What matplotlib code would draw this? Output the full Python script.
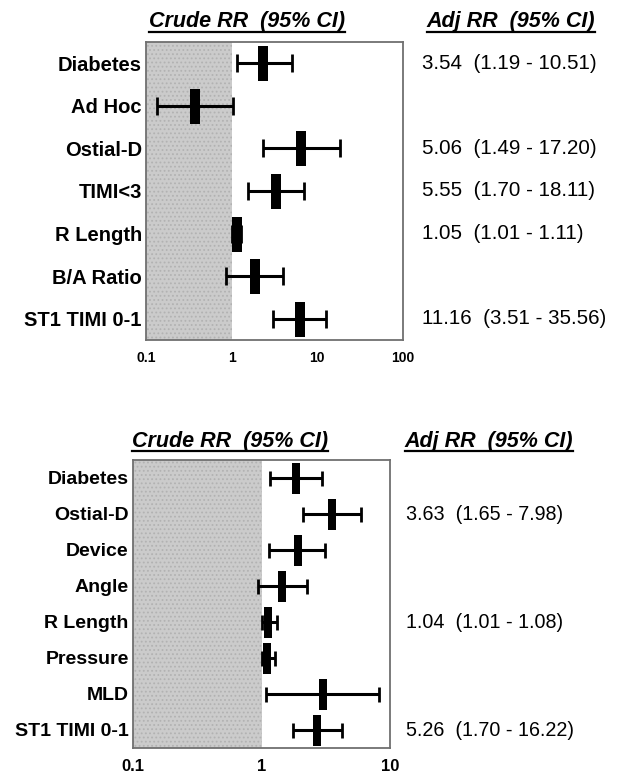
import matplotlib
matplotlib.use("Agg")
import matplotlib.pyplot as plt
from matplotlib.transforms import blended_transform_factory
from matplotlib.lines import Line2D

# ── Data ──────────────────────────────────────────────────────────────────────

top_labels = ["Diabetes", "Ad Hoc", "Ostial-D", "TIMI<3", "R Length",
              "B/A Ratio", "ST1 TIMI 0-1"]
top_rr = [2.35, 0.37, 6.4, 3.3, 1.15, 1.87, 6.3]
top_lo = [1.14, 0.135, 2.3, 1.55, 1.02, 0.86, 3.07]
top_hi = [5.1, 1.03, 18.6, 7.0, 1.3, 4.0, 12.6]
top_adj = ["3.54  (1.19 - 10.51)", "", "5.06  (1.49 - 17.20)",
           "5.55  (1.70 - 18.11)", "1.05  (1.01 - 1.11)", "",
           "11.16  (3.51 - 35.56)"]
top_ticks = [0.1, 1, 10, 100]

bot_labels = ["Diabetes", "Ostial-D", "Device", "Angle", "R Length",
              "Pressure", "MLD", "ST1 TIMI 0-1"]
bot_rr = [1.85, 3.53, 1.93, 1.44, 1.13, 1.11, 3.0, 2.7]
bot_lo = [1.17, 2.1, 1.15, 0.94, 1.0, 1.0, 1.09, 1.76]
bot_hi = [2.96, 5.9, 3.11, 2.26, 1.33, 1.28, 8.2, 4.2]
bot_adj = ["", "3.63  (1.65 - 7.98)", "", "", "1.04  (1.01 - 1.08)", "", "",
           "5.26  (1.70 - 16.22)"]
bot_ticks = [0.1, 1, 10]

plt.rcParams['font.family'] = ['Liberation Sans', 'DejaVu Sans']
plt.rcParams['hatch.linewidth'] = 0.8

W, H = 619, 773
fig = plt.figure(figsize=(W / 100, H / 100), dpi=100)

# rectangle marker, 10 px wide and ~35 px tall
RECT = [(-5, -17.5), (5, -17.5), (5, 17.5), (-5, 17.5), (-5, -17.5)]


def panel(rect, labels, rr, lo, hi, adj, ticks, box_h, cap, tick_fs, adj_x, lab_fs, adj_fs):
    ax = fig.add_axes(rect)
    n = len(labels)
    ys = list(range(n))
    ax.set_xscale('log')
    ax.set_xlim(ticks[0], ticks[-1])
    ax.set_ylim(n - 0.5, -0.5)
    # stippled grey region below RR = 1
    ax.axvspan(ticks[0], 1, facecolor='#cbcbcb', edgecolor='#b2b2b2', hatch='....',
               lw=0, zorder=0)
    err = [[r - l for r, l in zip(rr, lo)], [h - r for r, h in zip(rr, hi)]]
    ax.errorbar(rr, ys, xerr=err, fmt='none', ecolor='black', elinewidth=2.2,
                capsize=cap / 2 * 0.72, capthick=2.0, zorder=3)
    ax.plot(rr, ys, ls='none', marker=RECT, ms=box_h * 0.72, color='black',
            mec='black', mew=0, zorder=4)
    for s in ax.spines.values():
        s.set_color('#707070')
        s.set_linewidth(1.3)
    ax.set_yticks(ys)
    ax.set_yticklabels(labels, fontsize=lab_fs, fontweight='bold')
    ax.set_xticks(ticks)
    ax.set_xticklabels([f"{t:g}" for t in ticks], fontsize=tick_fs, fontweight='bold')
    ax.minorticks_off()
    ax.tick_params(axis='both', length=0)
    ax.tick_params(axis='y', pad=3)
    ax.tick_params(axis='x', pad=8)
    tr = blended_transform_factory(fig.transFigure, ax.transData)
    for y, s in zip(ys, adj):
        if s:
            ax.text(adj_x, y, s, transform=tr, fontsize=adj_fs, ha='left',
                    va='center', clip_on=False)
    return ax


panel([146 / W, 1 - 340 / H, 257 / W, 298 / H], top_labels, top_rr, top_lo, top_hi,
      top_adj, top_ticks, 35, 18, 10, 422 / W, 14.5, 14.8)
panel([133 / W, 1 - 748 / H, 257 / W, 288 / H], bot_labels, bot_rr, bot_lo, bot_hi,
      bot_adj, bot_ticks, 31, 15, 12, 406 / W, 14, 14.2)

# underlined headers
headers = [("Crude RR  (95% CI)", 247, 22), ("Adj RR  (95% CI)", 511, 22),
           ("Crude RR  (95% CI)", 230, 442), ("Adj RR  (95% CI)", 489, 442)]
texts = []
for s, x, y in headers:
    texts.append(fig.text(x / W, 1 - y / H, s, fontsize=15.5, fontweight='bold',
                          fontstyle='italic', ha='center', va='center'))

fig.canvas.draw()
r = fig.canvas.get_renderer()
for t in texts:
    bb = t.get_window_extent(r)
    yl = (bb.y0 + 1) / H
    fig.add_artist(Line2D([bb.x0 / W, bb.x1 / W], [yl, yl], color='black', lw=1.6,
                          transform=fig.transFigure))

fig.savefig("out.png", dpi=100)
